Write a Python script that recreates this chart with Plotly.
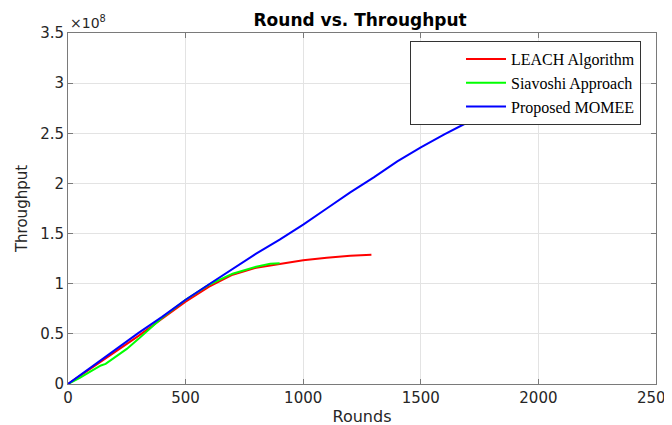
import plotly.graph_objects as go

# Rounds / throughput values (throughput in units of 1e8)
leach_rounds = [0, 50, 100, 150, 200, 300, 400, 500, 600, 700, 800, 900, 1000, 1100, 1200, 1290]
leach_tp = [0, 0.08, 0.16, 0.24, 0.32, 0.48, 0.65, 0.82, 0.97, 1.09, 1.16, 1.20, 1.235, 1.26, 1.28, 1.29]

siavoshi_rounds = [0, 50, 100, 140, 160, 200, 250, 300, 350, 400, 450, 500, 600, 700, 800, 860, 900]
siavoshi_tp = [0, 0.06, 0.13, 0.185, 0.20, 0.27, 0.35, 0.45, 0.56, 0.66, 0.75, 0.84, 0.99, 1.10, 1.17, 1.20, 1.205]

momee_rounds = [0, 100, 200, 300, 400, 500, 600, 700, 800, 900, 1000, 1100, 1200, 1300,
                1400, 1500, 1600, 1700, 1800, 1900, 2000]
momee_tp = [0, 0.17, 0.34, 0.51, 0.67, 0.84, 0.995, 1.15, 1.30, 1.44, 1.59, 1.75, 1.91, 2.06,
            2.22, 2.36, 2.49, 2.61, 2.73, 2.84, 2.95]

x_ticks = [0, 500, 1000, 1500, 2000, 2500]
y_ticks = [0, 0.5, 1, 1.5, 2, 2.5, 3, 3.5]
y_tick_labels = ["0", "0.5", "1", "1.5", "2", "2.5", "3", "3.5"]

SANS = "DejaVu Sans, Arial"

fig = go.Figure()
fig.add_trace(go.Scatter(x=leach_rounds, y=leach_tp, mode="lines", name="LEACH Algorithm",
                         line=dict(color="#ff0000", width=2)))
fig.add_trace(go.Scatter(x=siavoshi_rounds, y=siavoshi_tp, mode="lines", name="Siavoshi Approach",
                         line=dict(color="#00ff00", width=2)))
fig.add_trace(go.Scatter(x=momee_rounds, y=momee_tp, mode="lines", name="Proposed MOMEE",
                         line=dict(color="#0000ff", width=2)))

axis_common = dict(
    showgrid=True, gridcolor="#e3e3e3", gridwidth=1,
    showline=True, linecolor="#7a7a7a", linewidth=1, mirror="ticks",
    ticks="inside", ticklen=5, tickcolor="#7a7a7a",
    zeroline=False, automargin=False, ticklabeloverflow="allow",
    tickfont=dict(family=SANS, size=15, color="#262626"),
)

# page body has an 8px margin: margins are chosen so the plot area lands at the reference pixels
fig.update_layout(
    width=672, height=425,
    paper_bgcolor="white", plot_bgcolor="white",
    margin=dict(l=60, r=24, t=25, b=49),
    title=dict(text="<b>Round vs. Throughput</b>", x=0.524, xanchor="center",
               y=1 - 12 / 425, yanchor="middle",
               font=dict(family=SANS, size=17, color="#000000")),
    xaxis=dict(range=[0, 2500], tickvals=x_ticks,
               title=dict(text="Rounds", standoff=4,
                          font=dict(family=SANS, size=16, color="#262626")),
               **axis_common),
    yaxis=dict(range=[0, 3.5], tickvals=y_ticks, ticktext=y_tick_labels,
               title=dict(text="Throughput", standoff=8,
                          font=dict(family=SANS, size=15, color="#262626")),
               **axis_common),
    legend=dict(x=0.9745, y=0.977, xanchor="right", yanchor="top",
                bgcolor="white", bordercolor="#333333", borderwidth=1,
                font=dict(family="Liberation Serif, Times New Roman", size=16, color="#000000"),
                tracegroupgap=0, itemwidth=40, indentation=50),
    showlegend=True,
)

fig.add_annotation(text="\u00d710<sup>8</sup>", xref="paper", yref="paper", x=0.0, y=1.0,
                   xanchor="left", yanchor="bottom", showarrow=False,
                   font=dict(family=SANS, size=14, color="#262626"))

fig.write_html("out.html")
